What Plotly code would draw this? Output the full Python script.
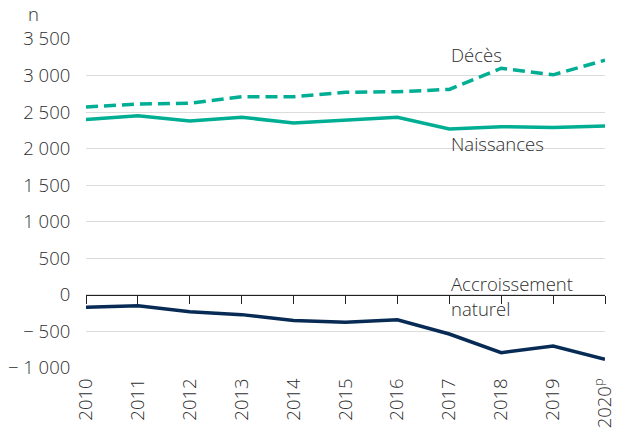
import plotly.graph_objects as go

years = [2010, 2011, 2012, 2013, 2014, 2015, 2016, 2017, 2018, 2019, 2020]
year_labels = ["2010", "2011", "2012", "2013", "2014", "2015", "2016", "2017", "2018", "2019", "2020<sup>p</sup>"]
naissances = [2400, 2450, 2380, 2430, 2350, 2390, 2430, 2270, 2300, 2290, 2310]
deces = [2570, 2610, 2620, 2710, 2710, 2770, 2780, 2810, 3100, 3010, 3210]
accroissement = [-170, -150, -230, -270, -350, -375, -340, -535, -790, -700, -880]
y_ticks = [-1000, -500, 0, 500, 1000, 1500, 2000, 2500, 3000, 3500]
y_tick_labels = ["− 1 000", "− 500", "0", "500", "1 000", "1 500", "2 000", "2 500", "3 000", "3 500"]

TEAL = "#00ae94"
NAVY = "#072b55"
TXT = "#2e2e2e"
FONT = "Open Sans"
FS = 18.5

ymin, ymax = -1000, 3500

fig = go.Figure()
fig.add_trace(go.Scatter(x=years, y=deces, mode="lines",
                         line=dict(color=TEAL, width=3.5, dash="12px,6px"), showlegend=False))
fig.add_trace(go.Scatter(x=years, y=naissances, mode="lines",
                         line=dict(color=TEAL, width=3.5), showlegend=False))
fig.add_trace(go.Scatter(x=years, y=accroissement, mode="lines",
                         line=dict(color=NAVY, width=3.5), showlegend=False))
# invisible trace to attach the zero-positioned axis
fig.add_trace(go.Scatter(x=years, y=[0]*len(years), xaxis="x2", mode="lines",
                         line=dict(width=0), hoverinfo="skip", showlegend=False))

tf = dict(family=FONT, size=FS, color=TXT, weight=300)

fig.update_layout(
    width=621, height=430,
    margin=dict(l=86, r=16, t=39, b=62, autoexpand=False),
    paper_bgcolor="white", plot_bgcolor="white",
    font=tf,
    xaxis=dict(range=[2010, 2020], tickvals=years, ticktext=year_labels,
               tickangle=-90, showgrid=False, zeroline=False, showline=False,
               ticks="outside", ticklen=2, tickcolor="rgba(0,0,0,0)", tickfont=tf,
               automargin=False),
    xaxis2=dict(range=[2010, 2020], tickvals=years, overlaying="x", anchor="free",
                position=(0 - ymin) / (ymax - ymin), showticklabels=False,
                showline=True, linecolor="#222", linewidth=1,
                ticks="outside", ticklen=8, tickcolor="#222", tickwidth=1,
                showgrid=False, zeroline=False, side="bottom", automargin=False),
    yaxis=dict(range=[ymin, ymax], tickvals=y_ticks, ticktext=y_tick_labels,
               showgrid=True, gridcolor="#dcdcdc", gridwidth=1, zeroline=False,
               showline=False, ticks="outside", ticklen=11, tickcolor="rgba(0,0,0,0)",
               tickfont=tf, automargin=False),
)

fig.add_annotation(x=0, xref="paper", xshift=-60, y=1, yref="paper", yshift=26,
                   text="n", showarrow=False, xanchor="left", yanchor="middle", font=tf)
fig.add_annotation(x=2017, y=3290, text="Décès", showarrow=False,
                   xanchor="left", yanchor="middle", font=tf)
fig.add_annotation(x=2017, y=2070, text="Naissances", showarrow=False,
                   xanchor="left", yanchor="middle", font=tf)
fig.add_annotation(x=2017, y=150, text="Accroissement", showarrow=False,
                   xanchor="left", yanchor="middle", font=tf)
fig.add_annotation(x=2017, y=-180, text="naturel", showarrow=False,
                   xanchor="left", yanchor="middle", font=tf)

fig.write_html("out.html", config={"displayModeBar": False},
               post_script="document.body.style.margin='0';document.body.style.overflow='hidden';")
